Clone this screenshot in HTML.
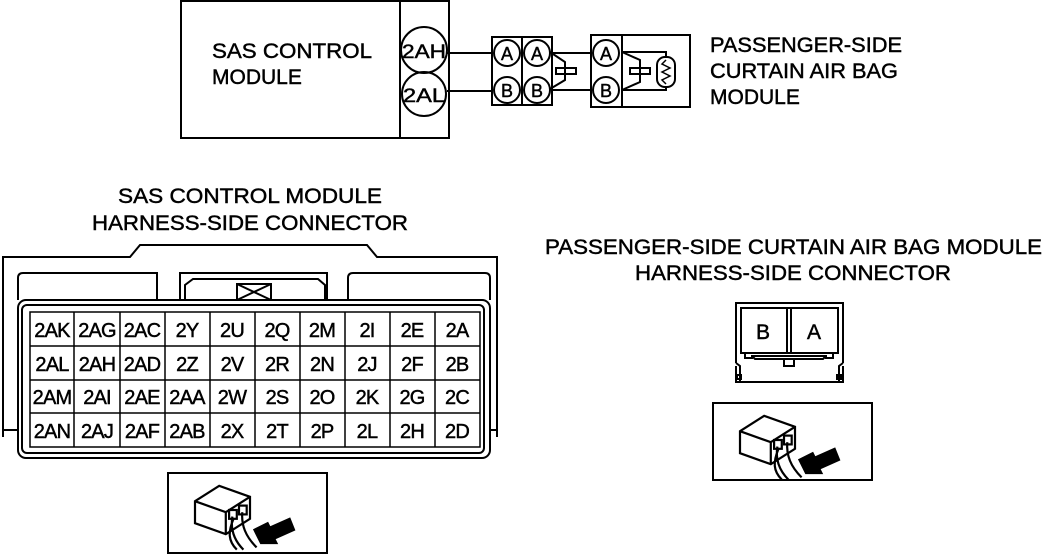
<!DOCTYPE html>
<html><head><style>
html,body{margin:0;padding:0;background:#fff;}
svg{display:block;}
text{font-family:"Liberation Sans",Arial,sans-serif;fill:#000;stroke:#000;stroke-width:0.45;}
</style></head><body>
<svg width="1062" height="555" viewBox="0 0 1062 555" xmlns="http://www.w3.org/2000/svg">
<defs>
<g id="ico" fill="none" stroke="#000" stroke-width="2">
  <path d="M0,22 L22,8 L50,18 L50,38 L28,52 L0,42 Z" fill="#fff"/>
  <path d="M0,22 L28,32 L50,18 M28,32 L28,52"/>
  <rect x="31" y="30" width="7" height="8"/><rect x="40" y="26" width="7" height="8"/>
  <path d="M34,36 C32,48 36,58 44,66 M43,32 C42,44 46,54 56,64 M35,38 C30,50 30,58 38,66"/>
  <path d="M54,48 L66,42 L68,46 L86,38 L90,48 L72,56 L74,60 L60,60 Z" fill="#000"/>
</g>
</defs>
<g fill="none" stroke="#000" stroke-width="2">
<rect x="181" y="1" width="268" height="137"/>
<line x1="400" y1="1" x2="400" y2="138"/>
<circle cx="424" cy="50" r="23"/><circle cx="424" cy="94" r="22"/>
<line x1="447" y1="53" x2="492" y2="53"/><line x1="447" y1="91" x2="492" y2="91"/>
<rect x="492" y="37" width="60" height="68"/><line x1="522" y1="37" x2="522" y2="105"/>
<circle cx="507" cy="53" r="13"/><circle cx="537" cy="53" r="13"/>
<circle cx="507" cy="90" r="13"/><circle cx="537" cy="90" r="13"/>
<path d="M550,52 L565,62 L565,80 L550,89"/>
<rect x="556" y="68" width="20" height="6"/>
<line x1="552" y1="53" x2="592" y2="53"/><line x1="552" y1="90" x2="592" y2="90"/>
<rect x="591" y="35" width="99" height="72"/><line x1="622" y1="35" x2="622" y2="107"/>
<circle cx="606" cy="53" r="13"/><circle cx="606" cy="90" r="13"/>
<path d="M622,52 L640,60 L640,82 L622,90"/>
<rect x="630" y="68" width="20" height="6"/>
<path d="M622,52 L666,52 L666,58 M622,90 L666,90 L666,86"/>
<rect x="657" y="57" width="18" height="30" rx="8"/>
<path d="M666,60 L662,64 L670,68 L662,72 L670,76 L662,80 L666,84" stroke-width="1.5"/>
<path d="M3,437 L3,257 L130,257 L140,245 L367,245 L377,257 L497,257 L497,437"/>
<path d="M3,430 L18,430 M3,430 L3,437 M490,430 L497,430"/>
<path d="M18,300 L18,278 Q18,273 23,273 L157,273 L157,300"/>
<path d="M180,300 L180,273 L327,273 L327,300"/>
<path d="M185,300 L185,285 L193,279 L318,279 L325,285 L325,300"/>
<rect x="237" y="284" width="34" height="16"/>
<path d="M237,284 L271,300 M271,284 L237,300"/>
<path d="M348,300 L348,278 Q348,273 353,273 L485,273 Q490,273 490,278 L490,300"/>
<rect x="18" y="300" width="472" height="158" rx="8" fill="#fff"/>
<rect x="22" y="305" width="462" height="148" rx="5"/>
<rect x="30" y="312" width="450" height="135" stroke-width="1.5"/>
<g stroke-width="1.5">
<line x1="74" y1="312" x2="74" y2="447"/><line x1="120" y1="312" x2="120" y2="447"/>
<line x1="165" y1="312" x2="165" y2="447"/><line x1="210" y1="312" x2="210" y2="447"/>
<line x1="255" y1="312" x2="255" y2="447"/><line x1="300" y1="312" x2="300" y2="447"/>
<line x1="345" y1="312" x2="345" y2="447"/><line x1="390" y1="312" x2="390" y2="447"/>
<line x1="435" y1="312" x2="435" y2="447"/>
<line x1="30" y1="346" x2="480" y2="346"/><line x1="30" y1="380" x2="480" y2="380"/>
<line x1="30" y1="413" x2="480" y2="413"/>
</g>
<path d="M736,363 L736,303 L843,303 L843,363"/>
<rect x="741" y="308" width="97" height="45"/>
<line x1="787" y1="308" x2="787" y2="353"/><line x1="791" y1="308" x2="791" y2="353"/>
<path d="M745,353 L745,358 L752,358 L752,356 L826,356 L826,358 L833,358 L833,353"/>
<path d="M752,356 L755,359 L823,359 L826,356"/>
<rect x="784" y="359" width="10" height="7"/>
<path d="M736,363 L740,366 L740,382 M843,363 L839,366 L839,382 M736,366 L736,382 L843,382 L843,366"/>
<rect x="737" y="375" width="4" height="4"/><rect x="837" y="375" width="4" height="4"/>
<rect x="713" y="403" width="159" height="77"/>
<rect x="168" y="473" width="159" height="80"/>
</g>
<use href="#ico" transform="translate(740,407) scale(1.1)"/>
<use href="#ico" transform="translate(195,477) scale(1.1)"/>
<g font-size="21">
<text x="212" y="58" textLength="160" lengthAdjust="spacingAndGlyphs">SAS CONTROL</text><text x="212" y="84">MODULE</text>
<text x="710" y="52" textLength="192" lengthAdjust="spacingAndGlyphs">PASSENGER-SIDE</text><text x="710" y="78" textLength="188" lengthAdjust="spacingAndGlyphs">CURTAIN AIR BAG</text><text x="710" y="104">MODULE</text>
<text x="118" y="203" textLength="264" lengthAdjust="spacingAndGlyphs">SAS CONTROL MODULE</text>
<text x="92" y="230" textLength="316" lengthAdjust="spacingAndGlyphs">HARNESS-SIDE CONNECTOR</text>
<text x="545" y="254" textLength="497" lengthAdjust="spacingAndGlyphs">PASSENGER-SIDE CURTAIN AIR BAG MODULE</text>
<text x="635" y="280" textLength="316" lengthAdjust="spacingAndGlyphs">HARNESS-SIDE CONNECTOR</text>
<g text-anchor="middle">
<text x="424" y="58" font-size="19" textLength="44" lengthAdjust="spacingAndGlyphs">2AH</text><text x="424" y="102" font-size="19" textLength="42" lengthAdjust="spacingAndGlyphs">2AL</text>
<g font-size="18"><text x="507" y="60">A</text><text x="537" y="60">A</text><text x="507" y="97">B</text><text x="537" y="97">B</text>
<text x="606" y="60">A</text><text x="606" y="97">B</text></g>
<text x="763" y="339" font-size="21">B</text><text x="814" y="339" font-size="21">A</text>
</g>
<g text-anchor="middle" font-size="20" letter-spacing="-0.8">
<text x="52" y="337">2AK</text><text x="97" y="337">2AG</text><text x="142" y="337">2AC</text><text x="187" y="337">2Y</text><text x="232" y="337">2U</text><text x="277" y="337">2Q</text><text x="322" y="337">2M</text><text x="367" y="337">2I</text><text x="412" y="337">2E</text><text x="457" y="337">2A</text>
<text x="52" y="371">2AL</text><text x="97" y="371">2AH</text><text x="142" y="371">2AD</text><text x="187" y="371">2Z</text><text x="232" y="371">2V</text><text x="277" y="371">2R</text><text x="322" y="371">2N</text><text x="367" y="371">2J</text><text x="412" y="371">2F</text><text x="457" y="371">2B</text>
<text x="52" y="404">2AM</text><text x="97" y="404">2AI</text><text x="142" y="404">2AE</text><text x="187" y="404">2AA</text><text x="232" y="404">2W</text><text x="277" y="404">2S</text><text x="322" y="404">2O</text><text x="367" y="404">2K</text><text x="412" y="404">2G</text><text x="457" y="404">2C</text>
<text x="52" y="438">2AN</text><text x="97" y="438">2AJ</text><text x="142" y="438">2AF</text><text x="187" y="438">2AB</text><text x="232" y="438">2X</text><text x="277" y="438">2T</text><text x="322" y="438">2P</text><text x="367" y="438">2L</text><text x="412" y="438">2H</text><text x="457" y="438">2D</text>
</g>
</g>
</svg>
</body></html>
